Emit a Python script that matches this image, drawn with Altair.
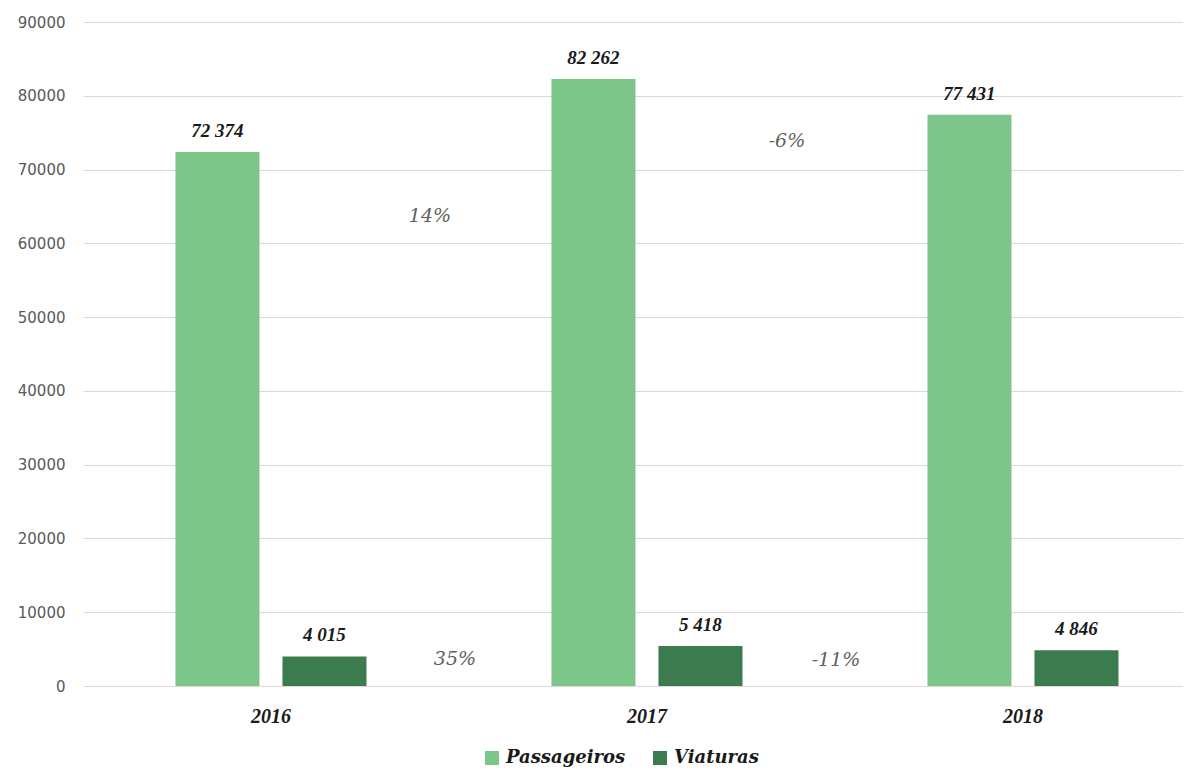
import altair as alt
import pandas as pd

years = ["2016", "2017", "2018"]
passageiros = [72374, 82262, 77431]
viaturas = [4015, 5418, 4846]
series = ["Passageiros", "Viaturas"]
colors = ["#7cc68a", "#3b7b4e"]

rows = []
for i, yr in enumerate(years):
    rows.append({"ano": yr, "serie": "Passageiros", "valor": passageiros[i]})
    rows.append({"ano": yr, "serie": "Viaturas", "valor": viaturas[i]})
df = pd.DataFrame(rows)
df["rotulo"] = df["valor"].map(lambda v: f"{v:,}".replace(",", " "))

# year-on-year change annotations
ann = []
for s, vals in (("Passageiros", passageiros), ("Viaturas", viaturas)):
    for i in range(len(years) - 1):
        pct = round((vals[i + 1] / vals[i] - 1) * 100)
        ann.append({"ano": years[i], "serie": s, "texto": f"{pct}%"})
ann_df = pd.DataFrame(ann)

# placement (style): (dx from year centre, y pixel in plot)
ann_pos = {
    ("2016", "Passageiros"): (159, 194),
    ("2016", "Viaturas"): (184, 637),
    ("2017", "Passageiros"): (140, 119),
    ("2017", "Viaturas"): (189, 638),
}

SERIF = "Liberation Serif"
WIDE_SERIF = "DejaVu Serif"
xscale = alt.Scale(domain=years, paddingInner=0.492, paddingOuter=0.20875, align=0.589)
x_enc = alt.X(
    "ano:N", scale=xscale, title=None,
    axis=alt.Axis(labelAngle=0, labelFont=SERIF, labelFontSize=20, labelFontWeight="bold",
                  labelFontStyle="italic", labelColor="#1a1a1a", labelPadding=20,
                  ticks=False, domain=False, grid=False),
)
xoff = alt.XOffset("serie:N", scale=alt.Scale(domain=series, paddingInner=0.215, paddingOuter=0))
y_enc = alt.Y(
    "valor:Q", scale=alt.Scale(domain=[0, 90000]), title=None,
    axis=alt.Axis(values=list(range(0, 90001, 10000)), format="d", labelFont="DejaVu Sans",
                  labelFontSize=15, labelColor="#595959", labelPadding=18, ticks=False,
                  domain=False, grid=True, gridColor="#d9d9d9", gridWidth=1),
)

base = alt.Chart(df).encode(x=x_enc, xOffset=xoff, y=y_enc)

bars = base.mark_bar().encode(
    color=alt.Color(
        "serie:N", scale=alt.Scale(domain=series, range=colors), title=None,
        legend=alt.Legend(orient="none", legendX=400, legendY=727, direction="horizontal",
                          labelFont=WIDE_SERIF, labelFontSize=18, labelFontWeight="bold",
                          labelFontStyle="italic", labelColor="#1a1a1a", symbolType="square",
                          symbolSize=196, symbolStrokeWidth=0, columnPadding=25, labelOffset=5),
    )
)

labels = base.mark_text(baseline="bottom", dy=-11, font=SERIF, fontSize=19, fontWeight="bold",
                        fontStyle="italic", color="#1a1a1a").encode(text="rotulo:N")

layers = [bars, labels]
for (yr, s), (dx, ypx) in ann_pos.items():
    layers.append(
        alt.Chart(ann_df).transform_filter(
            (alt.datum.ano == yr) & (alt.datum.serie == s)
        ).mark_text(font=WIDE_SERIF, fontSize=19, fontStyle="italic", color="#606060", dx=dx,
                    baseline="middle").encode(x=x_enc, y=alt.value(ypx), text="texto:N")
    )

chart = alt.layer(*layers).properties(
    width=1100, height=664, background="white",
    padding={"left": 9, "top": 7, "right": 0, "bottom": 0},
).configure_view(strokeWidth=0, stroke="transparent")

chart.save("out.html", embed_options={"renderer": "svg", "actions": False})
